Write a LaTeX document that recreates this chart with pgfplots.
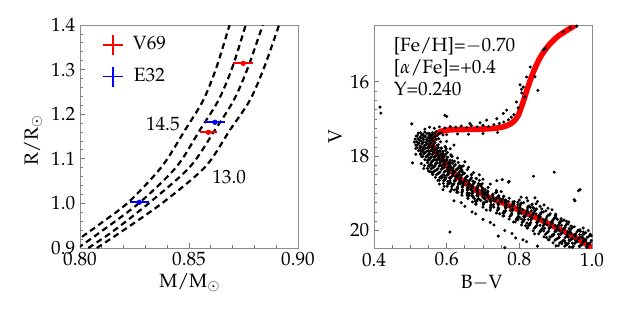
\documentclass[border=0pt]{standalone}
\usepackage[T1]{fontenc}
\usepackage{mathpazo}
\usepackage{pgfplots}
\pgfplotsset{compat=1.18}
\begin{document}
\fontsize{9.6}{11.5}\selectfont
\begin{tikzpicture}[font=\fontsize{9.6}{11.5}\selectfont]
\pgfplotsset{
  mystyle/.style={
    scale only axis, width=109pt, height=111.5pt,
    tick align=inside, xtick pos=left, ytick pos=left,
    axis line style={black!45},
    major tick length=2.6pt, minor tick length=1.5pt,
    major tick style={black!55, line width=0.4pt},
    minor tick style={black!55, line width=0.4pt},
    tick label style={font=\fontsize{9.6}{11.5}\selectfont},
    xticklabel style={yshift=1pt},
    yticklabel style={xshift=1pt},
  }
}
% ---------------- left panel ----------------
\begin{axis}[mystyle, at={(40pt,32pt)}, anchor=south west,
  xmin=0.80, xmax=0.90, ymin=0.9, ymax=1.4,
  xtick={0.80,0.85,0.90}, ytick={0.9,1.0,1.1,1.2,1.3,1.4},
  minor x tick num=4, minor y tick num=4,
  xticklabel style={/pgf/number format/.cd, fixed, fixed zerofill, precision=2},
  yticklabel style={/pgf/number format/.cd, fixed, fixed zerofill, precision=1},
  legend image code/.code={\draw[#1, line width=0.9pt] (-5pt,0)--(5pt,0) (0,-5pt)--(0,5pt);},
  legend style={draw=none, fill=none, at={(0,1)}, anchor=north west,
    xshift=10.85pt, yshift=-4.2pt, inner xsep=0pt, inner ysep=0pt,
    row sep=5pt, column sep=4.5pt, nodes={inner sep=0pt},
    font=\fontsize{9.6}{11.5}\selectfont},
]
\addplot[black, line width=1.1pt, dash pattern=on 3pt off 2pt, smooth, forget plot] coordinates {
 (0.7933,0.900) (0.800,0.922) (0.810,0.957) (0.8222,1.0025) (0.8375,1.0823) (0.8482,1.1646) (0.8566,1.232) (0.8627,1.3065) (0.8686,1.40)};
\addplot[black, line width=1.1pt, dash pattern=on 3pt off 2pt, smooth, forget plot] coordinates {
 (0.799,0.900) (0.810,0.938) (0.8275,1.0025) (0.8443,1.0823) (0.8550,1.1646) (0.8636,1.232) (0.8700,1.3065) (0.8760,1.40)};
\addplot[black, line width=1.1pt, dash pattern=on 3pt off 2pt, smooth, forget plot] coordinates {
 (0.8038,0.900) (0.815,0.937) (0.8321,1.0025) (0.8505,1.0823) (0.8619,1.1646) (0.8706,1.232) (0.8772,1.3065) (0.8838,1.40)};
\addplot[black, line width=1.1pt, dash pattern=on 3pt off 2pt, smooth, forget plot] coordinates {
 (0.8077,0.900) (0.820,0.940) (0.8382,1.0025) (0.8575,1.0823) (0.8688,1.1646) (0.8780,1.232) (0.8846,1.3065) (0.8913,1.40)};
\addplot[red, only marks, mark=*, mark size=1.1pt, forget plot,
  error bars/.cd, x dir=both, x explicit, y dir=both, y explicit,
  error bar style={line width=1pt, red}, error mark=none]
  table[x=x, y=y, x error=ex, y error=ey, row sep=\\]{
  x y ex ey\\ 0.8749 1.314 0.0046 0.003\\ 0.8589 1.1594 0.0040 0.003\\};
\addplot[blue, only marks, mark=*, mark size=1.1pt, forget plot,
  error bars/.cd, x dir=both, x explicit, y dir=both, y explicit,
  error bar style={line width=1pt, blue}, error mark=none]
  table[x=x, y=y, x error=ex, y error=ey, row sep=\\]{
  x y ex ey\\ 0.8619 1.182 0.0044 0.003\\ 0.8272 1.0025 0.0044 0.003\\};
\addlegendimage{red}
\addlegendentry{V69}
\addlegendimage{blue}
\addlegendentry{E32}
\node at (axis cs:0.838,1.178) {14.5};
\node at (axis cs:0.8684,1.059) {13.0};
\end{axis}
% ---------------- right panel ----------------
\begin{axis}[mystyle, at={(187pt,32pt)}, anchor=south west,
  xmin=0.4, xmax=1.0, ymin=14.47, ymax=20.47, y dir=reverse,
  xtick={0.4,0.6,0.8,1.0}, ytick={16,18,20},
  minor x tick num=3, minor y tick num=7,
  xticklabel style={/pgf/number format/.cd, fixed, fixed zerofill, precision=1},
]
\addplot[black, only marks, mark=*, mark size=0.55pt] coordinates {
(0.528,17.37)(0.540,17.35)(0.552,17.38)(0.561,17.36)(0.571,17.34)(0.585,17.37)
(0.522,17.38)(0.535,17.41)(0.546,17.39)(0.556,17.42)(0.566,17.40)(0.579,17.39)
(0.519,17.45)(0.531,17.43)(0.541,17.46)(0.552,17.44)(0.560,17.42)(0.574,17.45)(0.590,17.43)
(0.516,17.46)(0.527,17.49)(0.538,17.47)(0.549,17.50)(0.557,17.48)(0.568,17.47)
(0.521,17.53)(0.533,17.51)(0.545,17.54)(0.553,17.52)(0.563,17.50)(0.578,17.53)
(0.513,17.54)(0.526,17.57)(0.537,17.55)(0.548,17.58)(0.558,17.56)(0.571,17.55)
(0.518,17.61)(0.530,17.59)(0.542,17.62)(0.551,17.60)(0.562,17.58)(0.583,17.61)
(0.511,17.62)(0.524,17.65)(0.535,17.63)(0.546,17.66)(0.556,17.64)(0.568,17.63)
(0.520,17.69)(0.532,17.67)(0.543,17.70)(0.553,17.68)(0.565,17.66)(0.577,17.69)
(0.515,17.70)(0.527,17.73)(0.539,17.71)(0.550,17.74)(0.560,17.72)(0.574,17.71)(0.596,17.74)
(0.518,17.77)(0.530,17.75)(0.542,17.78)(0.553,17.76)(0.564,17.74)(0.577,17.77)(0.596,17.75)
(0.526,17.78)(0.538,17.81)(0.550,17.79)(0.561,17.82)(0.572,17.80)(0.586,17.79)
(0.522,17.85)(0.534,17.83)(0.546,17.86)(0.557,17.84)(0.568,17.82)(0.581,17.85)
(0.530,17.86)(0.542,17.89)(0.554,17.87)(0.565,17.90)(0.576,17.88)(0.590,17.87)(0.602,17.90)
(0.528,17.93)(0.540,17.91)(0.552,17.94)(0.563,17.92)(0.574,17.90)(0.587,17.93)
(0.537,17.94)(0.549,17.97)(0.561,17.95)(0.572,17.98)(0.583,17.96)(0.597,17.95)
(0.534,18.01)(0.546,17.99)(0.558,18.02)(0.569,18.00)(0.580,17.98)(0.593,18.01)(0.612,17.99)
(0.543,18.02)(0.555,18.05)(0.567,18.03)(0.578,18.06)(0.589,18.04)(0.603,18.03)
(0.540,18.09)(0.552,18.07)(0.564,18.10)(0.575,18.08)(0.586,18.06)(0.599,18.09)
(0.550,18.10)(0.562,18.13)(0.574,18.11)(0.585,18.14)(0.596,18.12)(0.610,18.11)(0.622,18.14)
(0.547,18.17)(0.559,18.15)(0.571,18.18)(0.582,18.16)(0.593,18.14)(0.606,18.17)
(0.557,18.18)(0.569,18.21)(0.581,18.19)(0.592,18.22)(0.603,18.20)(0.617,18.19)
(0.539,18.25)(0.554,18.23)(0.568,18.26)(0.582,18.24)(0.595,18.22)(0.609,18.25)(0.624,18.23)(0.646,18.26)
(0.550,18.26)(0.565,18.29)(0.579,18.27)(0.593,18.30)(0.606,18.28)(0.620,18.27)(0.635,18.30)
(0.547,18.33)(0.562,18.31)(0.576,18.34)(0.590,18.32)(0.603,18.30)(0.617,18.33)(0.632,18.31)
(0.557,18.34)(0.572,18.37)(0.586,18.35)(0.600,18.38)(0.613,18.36)(0.627,18.35)(0.642,18.38)(0.657,18.36)
(0.553,18.41)(0.568,18.39)(0.582,18.42)(0.596,18.40)(0.609,18.38)(0.623,18.41)(0.638,18.39)
(0.564,18.42)(0.579,18.45)(0.593,18.43)(0.607,18.46)(0.620,18.44)(0.634,18.43)(0.649,18.46)
(0.561,18.49)(0.576,18.47)(0.590,18.50)(0.604,18.48)(0.617,18.46)(0.631,18.49)(0.646,18.47)(0.668,18.50)
(0.572,18.50)(0.587,18.53)(0.601,18.51)(0.615,18.54)(0.628,18.52)(0.642,18.51)(0.657,18.54)
(0.569,18.57)(0.584,18.55)(0.598,18.58)(0.612,18.56)(0.625,18.54)(0.639,18.57)(0.654,18.55)
(0.581,18.58)(0.596,18.61)(0.610,18.59)(0.624,18.62)(0.637,18.60)(0.651,18.59)(0.666,18.62)(0.681,18.60)
(0.580,18.65)(0.595,18.63)(0.609,18.66)(0.623,18.64)(0.636,18.62)(0.650,18.65)(0.665,18.63)
(0.592,18.66)(0.607,18.69)(0.621,18.67)(0.635,18.70)(0.648,18.68)(0.662,18.67)(0.677,18.70)
(0.591,18.73)(0.606,18.71)(0.620,18.74)(0.634,18.72)(0.647,18.70)(0.661,18.73)(0.676,18.71)(0.698,18.74)
(0.603,18.74)(0.618,18.77)(0.632,18.75)(0.646,18.78)(0.659,18.76)(0.673,18.75)(0.688,18.78)
(0.601,18.81)(0.616,18.79)(0.630,18.82)(0.644,18.80)(0.657,18.78)(0.671,18.81)(0.686,18.79)
(0.614,18.82)(0.629,18.85)(0.643,18.83)(0.657,18.86)(0.670,18.84)(0.684,18.83)(0.699,18.86)(0.714,18.84)
(0.614,18.89)(0.629,18.87)(0.643,18.90)(0.657,18.88)(0.670,18.86)(0.684,18.89)(0.699,18.87)
(0.628,18.90)(0.643,18.93)(0.657,18.91)(0.671,18.94)(0.684,18.92)(0.698,18.91)(0.713,18.94)
(0.628,18.97)(0.643,18.95)(0.657,18.98)(0.671,18.96)(0.684,18.94)(0.698,18.97)(0.713,18.95)(0.735,18.98)
(0.642,18.98)(0.657,19.01)(0.671,18.99)(0.685,19.02)(0.698,19.00)(0.712,18.99)(0.727,19.02)
(0.642,19.05)(0.657,19.03)(0.671,19.06)(0.685,19.04)(0.698,19.02)(0.712,19.05)(0.727,19.03)
(0.657,19.06)(0.672,19.09)(0.686,19.07)(0.700,19.10)(0.713,19.08)(0.727,19.07)(0.742,19.10)(0.757,19.08)
(0.659,19.13)(0.674,19.11)(0.688,19.14)(0.702,19.12)(0.715,19.10)(0.729,19.13)(0.744,19.11)
(0.676,19.14)(0.691,19.17)(0.705,19.15)(0.719,19.18)(0.732,19.16)(0.746,19.15)(0.761,19.18)
(0.679,19.21)(0.694,19.19)(0.708,19.22)(0.722,19.20)(0.735,19.18)(0.749,19.21)(0.764,19.19)(0.786,19.22)
(0.680,19.22)(0.701,19.25)(0.721,19.23)(0.741,19.26)(0.761,19.24)(0.782,19.23)(0.806,19.26)
(0.680,19.29)(0.702,19.27)(0.722,19.30)(0.742,19.28)(0.762,19.26)(0.782,19.29)(0.804,19.27)
(0.701,19.30)(0.722,19.33)(0.742,19.31)(0.762,19.34)(0.782,19.32)(0.803,19.31)(0.827,19.34)
(0.700,19.37)(0.722,19.35)(0.742,19.38)(0.762,19.36)(0.782,19.34)(0.802,19.37)(0.824,19.35)
(0.721,19.38)(0.742,19.41)(0.762,19.39)(0.782,19.42)(0.802,19.40)(0.823,19.39)(0.847,19.42)
(0.720,19.45)(0.742,19.43)(0.762,19.46)(0.782,19.44)(0.802,19.42)(0.822,19.45)(0.844,19.43)
(0.740,19.46)(0.761,19.49)(0.781,19.47)(0.801,19.50)(0.821,19.48)(0.842,19.47)(0.866,19.50)
(0.737,19.53)(0.759,19.51)(0.779,19.54)(0.799,19.52)(0.819,19.50)(0.839,19.53)(0.861,19.51)
(0.757,19.54)(0.778,19.57)(0.798,19.55)(0.818,19.58)(0.838,19.56)(0.859,19.55)(0.883,19.58)
(0.755,19.61)(0.777,19.59)(0.797,19.62)(0.817,19.60)(0.837,19.58)(0.857,19.61)(0.879,19.59)
(0.774,19.62)(0.795,19.65)(0.815,19.63)(0.835,19.66)(0.855,19.64)(0.876,19.63)(0.900,19.66)
(0.772,19.69)(0.794,19.67)(0.814,19.70)(0.834,19.68)(0.854,19.66)(0.874,19.69)(0.896,19.67)
(0.791,19.70)(0.812,19.73)(0.832,19.71)(0.852,19.74)(0.872,19.72)(0.893,19.71)(0.917,19.74)
(0.789,19.77)(0.811,19.75)(0.831,19.78)(0.851,19.76)(0.871,19.74)(0.891,19.77)(0.913,19.75)
(0.808,19.78)(0.829,19.81)(0.849,19.79)(0.869,19.82)(0.889,19.80)(0.910,19.79)(0.934,19.82)
(0.806,19.85)(0.828,19.83)(0.848,19.86)(0.868,19.84)(0.888,19.82)(0.908,19.85)(0.930,19.83)
(0.825,19.86)(0.846,19.89)(0.866,19.87)(0.886,19.90)(0.906,19.88)(0.927,19.87)(0.951,19.90)
(0.822,19.93)(0.844,19.91)(0.864,19.94)(0.884,19.92)(0.904,19.90)(0.924,19.93)(0.946,19.91)
(0.841,19.94)(0.862,19.97)(0.882,19.95)(0.902,19.98)(0.922,19.96)(0.943,19.95)(0.967,19.98)
(0.838,20.01)(0.860,19.99)(0.880,20.02)(0.900,20.00)(0.920,19.98)(0.940,20.01)(0.962,19.99)
(0.857,20.02)(0.878,20.05)(0.898,20.03)(0.918,20.06)(0.938,20.04)(0.959,20.03)(0.983,20.06)
(0.853,20.09)(0.875,20.07)(0.895,20.10)(0.915,20.08)(0.935,20.06)(0.955,20.09)(0.977,20.07)
(0.872,20.10)(0.893,20.13)(0.913,20.11)(0.933,20.14)(0.953,20.12)(0.974,20.11)(0.998,20.14)
(0.868,20.17)(0.890,20.15)(0.910,20.18)(0.930,20.16)(0.950,20.14)(0.970,20.17)(0.992,20.15)
(0.885,20.18)(0.906,20.21)(0.926,20.19)(0.946,20.22)(0.966,20.20)(0.987,20.19)
(0.880,20.25)(0.902,20.23)(0.922,20.26)(0.942,20.24)(0.962,20.22)(0.982,20.25)
(0.898,20.26)(0.919,20.29)(0.939,20.27)(0.959,20.30)(0.979,20.28)(0.998,20.27)
(0.893,20.33)(0.915,20.31)(0.935,20.34)(0.955,20.32)(0.975,20.30)(0.995,20.33)
(0.911,20.34)(0.932,20.37)(0.952,20.35)(0.972,20.38)(0.992,20.36)
(0.907,20.41)(0.929,20.39)(0.949,20.42)(0.969,20.40)(0.989,20.38)
(0.925,20.42)(0.946,20.45)(0.966,20.43)(0.986,20.46)
(0.515,17.79)(0.535,17.77)(0.550,17.78)(0.562,17.76)(0.573,17.79)(0.585,17.78)(0.599,17.80)
(0.528,17.85)(0.534,17.88)(0.550,17.86)(0.561,17.87)(0.572,17.84)(0.582,17.87)(0.597,17.85)
(0.528,17.95)(0.551,17.93)(0.554,17.94)(0.574,17.92)(0.585,17.95)(0.591,17.94)(0.612,17.96)
(0.531,18.01)(0.551,18.04)(0.566,18.02)(0.578,18.03)(0.589,18.00)(0.601,18.03)(0.615,18.01)
(0.547,18.11)(0.553,18.09)(0.569,18.10)(0.580,18.08)(0.591,18.11)(0.601,18.10)(0.616,18.12)
(0.548,18.17)(0.571,18.20)(0.574,18.18)(0.594,18.19)(0.605,18.16)(0.611,18.19)(0.632,18.17)
(0.553,18.27)(0.560,18.25)(0.586,18.26)(0.593,18.24)(0.610,18.27)(0.636,18.26)(0.642,18.28)
(0.537,18.33)(0.574,18.36)(0.587,18.34)(0.604,18.35)(0.612,18.32)(0.630,18.35)(0.639,18.33)
(0.558,18.43)(0.565,18.41)(0.603,18.42)(0.618,18.40)(0.634,18.43)(0.643,18.42)(0.674,18.44)
(0.562,18.49)(0.594,18.52)(0.603,18.50)(0.617,18.51)(0.634,18.48)(0.637,18.51)(0.669,18.49)
(0.586,18.59)(0.594,18.57)(0.608,18.58)(0.630,18.56)(0.638,18.59)(0.668,18.58)(0.682,18.60)
(0.576,18.65)(0.603,18.68)(0.624,18.66)(0.639,18.67)(0.655,18.64)(0.672,18.67)(0.690,18.65)
(0.605,18.75)(0.612,18.73)(0.638,18.74)(0.645,18.72)(0.662,18.75)(0.688,18.74)(0.694,18.76)
(0.593,18.81)(0.630,18.84)(0.643,18.82)(0.660,18.83)(0.668,18.80)(0.686,18.83)(0.695,18.81)
(0.621,18.91)(0.628,18.89)(0.666,18.90)(0.681,18.88)(0.697,18.91)(0.706,18.90)(0.737,18.92)
(0.631,18.97)(0.663,19.00)(0.672,18.98)(0.686,18.99)(0.703,18.96)(0.706,18.99)(0.738,18.97)
(0.661,19.07)(0.669,19.05)(0.683,19.06)(0.705,19.04)(0.713,19.07)(0.743,19.06)(0.757,19.08)
(0.658,19.13)(0.685,19.16)(0.706,19.14)(0.721,19.15)(0.737,19.12)(0.754,19.15)(0.772,19.13)
(0.671,19.23)(0.683,19.21)(0.711,19.22)(0.731,19.20)(0.752,19.23)(0.770,19.22)(0.796,19.24)
(0.681,19.29)(0.723,19.32)(0.729,19.30)(0.765,19.31)(0.785,19.28)(0.796,19.31)(0.835,19.29)
(0.721,19.39)(0.730,19.37)(0.764,19.38)(0.774,19.36)(0.796,19.39)(0.831,19.38)(0.839,19.40)
(0.709,19.45)(0.758,19.48)(0.775,19.46)(0.798,19.47)(0.809,19.44)(0.833,19.47)(0.845,19.45)
(0.746,19.55)(0.755,19.53)(0.806,19.54)(0.825,19.52)(0.846,19.55)(0.858,19.54)(0.900,19.56)
(0.757,19.61)(0.800,19.64)(0.812,19.62)(0.830,19.63)(0.853,19.60)(0.857,19.63)(0.899,19.61)
(0.796,19.71)(0.806,19.69)(0.825,19.70)(0.854,19.68)(0.865,19.71)(0.905,19.70)(0.923,19.72)
(0.784,19.77)(0.821,19.80)(0.848,19.78)(0.869,19.79)(0.889,19.76)(0.912,19.79)(0.936,19.77)
(0.817,19.87)(0.829,19.85)(0.857,19.86)(0.877,19.84)(0.898,19.87)(0.916,19.86)(0.942,19.88)
(0.822,19.93)(0.864,19.96)(0.870,19.94)(0.906,19.95)(0.926,19.92)(0.937,19.95)(0.976,19.93)
(0.858,20.03)(0.867,20.01)(0.901,20.02)(0.911,20.00)(0.933,20.03)(0.968,20.02)(0.976,20.04)
(0.842,20.09)(0.891,20.12)(0.908,20.10)(0.931,20.11)(0.942,20.08)(0.966,20.11)(0.978,20.09)
(0.875,20.19)(0.884,20.17)(0.935,20.18)(0.954,20.16)(0.975,20.19)(0.987,20.18)
(0.882,20.25)(0.925,20.28)(0.937,20.26)(0.955,20.27)(0.978,20.24)(0.982,20.27)
(0.917,20.35)(0.927,20.33)(0.946,20.34)(0.975,20.32)(0.986,20.35)
(0.901,20.41)(0.938,20.44)(0.965,20.42)(0.986,20.43)
(0.540,17.27)(0.553,17.22)(0.566,17.25)(0.580,17.21)(0.595,17.24)(0.610,17.20)(0.625,17.22)
(0.640,17.19)(0.655,17.23)(0.668,17.18)(0.684,17.21)(0.700,17.17)(0.715,17.20)(0.730,17.15)
(0.745,17.12)(0.757,17.08)(0.770,17.02)(0.778,16.95)(0.785,16.88)(0.600,16.93)(0.664,17.12)
(0.692,17.10)(0.710,17.03)(0.738,16.99)(0.756,16.85)(0.765,16.76)(0.792,16.54)(0.807,16.30)
(0.811,16.14)(0.820,15.87)(0.851,16.23)(0.843,15.86)(0.802,16.08)(0.806,16.20)(0.921,14.65)
(0.958,14.50)(0.940,14.55)(0.866,15.14)(0.872,15.10)(0.830,15.60)(0.815,16.40)(0.797,16.70)
(0.600,17.42)(0.630,17.40)(0.660,17.41)(0.700,17.39)(0.740,17.36)
(0.4165,16.68)(0.419,16.84)(0.504,17.13)(0.506,18.18)(0.595,16.90)(0.609,20.04)(0.839,18.54)
(0.896,18.43)(0.963,18.93)(0.951,19.17)(0.990,20.00)(0.995,20.10)(0.742,20.15)(0.760,20.46)
(0.770,18.70)(0.753,18.63)(0.772,18.68)(0.738,18.66)(0.843,19.12)(0.967,18.90)(0.953,19.20)
(0.800,19.18)(0.812,19.25)(0.823,19.20)(0.835,19.30)(0.846,19.28)(0.857,19.35)(0.868,19.31)
(0.879,19.40)(0.820,19.12)(0.850,19.22)(0.862,19.42)(0.873,19.47)(0.890,19.44)(0.805,19.10)
(0.838,19.38)(0.885,19.55)(0.900,19.60)(0.915,19.68)(0.930,19.75)
(0.610,18.95)(0.620,19.20)(0.650,19.35)(0.670,19.50)(0.700,19.70)(0.730,19.85)(0.760,20.00)
(0.790,20.20)(0.820,20.30)(0.850,20.42)(0.580,18.75)(0.550,18.40)(0.530,18.20)(0.515,17.95)
(0.590,18.90)(0.640,19.25)(0.680,19.55)(0.720,19.78)(0.780,20.08)(0.810,20.25)
(0.600,17.60)(0.610,17.80)(0.630,18.05)(0.660,18.30)(0.690,18.50)(0.720,18.75)(0.750,18.95)
(0.620,17.70)(0.650,18.15)(0.700,18.62)
};
\addplot[red, line width=2.8pt, smooth] coordinates {
(0.958,14.45)(0.930,14.62)(0.903,14.80)(0.878,15.05)(0.857,15.35)(0.838,15.75)(0.824,16.13)
(0.810,16.55)(0.797,16.90)(0.783,17.08)(0.765,17.18)(0.740,17.24)(0.700,17.27)(0.650,17.28)
(0.610,17.29)(0.585,17.33)(0.568,17.42)(0.560,17.55)(0.561,17.70)(0.568,17.85)(0.582,18.03)
(0.605,18.30)(0.630,18.55)(0.664,18.81)(0.710,19.08)(0.756,19.26)(0.800,19.45)(0.848,19.66)
(0.895,19.89)(0.940,20.11)(1.000,20.46)};
\end{axis}
% ---------------- labels ----------------
\node[rotate=90] at (16.5pt,86pt) {R/R$_\odot$};
\node at (95pt,14.5pt) {M/M$_\odot$};
\node[rotate=90] at (167.5pt,87.5pt) {V};
\node at (240.8pt,14.5pt) {B$-$V};
\node[anchor=base west, inner sep=0pt] at (196.7pt,130.5pt) {[Fe/H]=$-$0.70};
\node[anchor=base west, inner sep=0pt] at (196.7pt,119.2pt) {[$\alpha$/Fe]=+0.4};
\node[anchor=base west, inner sep=0pt] at (196.7pt,108.2pt) {Y=0.240};
\pgfresetboundingbox
\useasboundingbox (0,0) rectangle (311.5pt,156pt);
\end{tikzpicture}
\end{document}
